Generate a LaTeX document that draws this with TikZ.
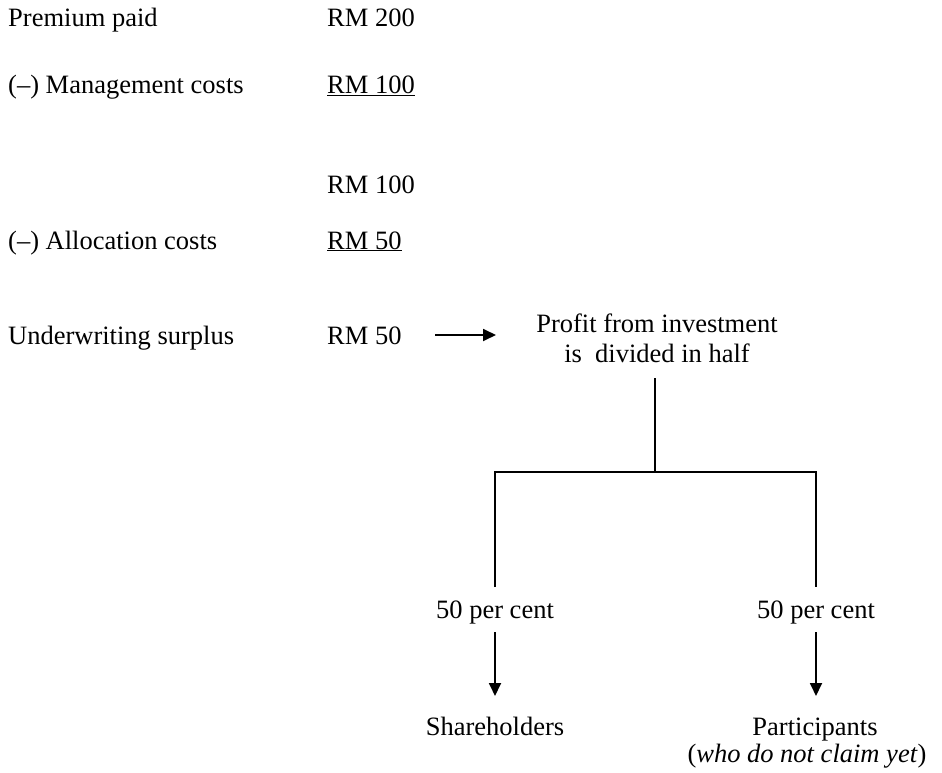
\documentclass[tikz,border=0pt]{standalone}
\usepackage{fontspec}
\setmainfont{Liberation Serif}
\usetikzlibrary{arrows.meta}
\tikzset{
  txt/.style={inner sep=0pt, font=\fontsize{26.5}{31}\selectfont},
  lw/.style={line width=1.8pt},
  arr/.style={lw, -{Triangle[length=13pt,width=12pt]}},
}
\begin{document}
\begin{tikzpicture}[x=1pt,y=-1pt]
\useasboundingbox (0,0) rectangle (942,773);
% left column
\node[txt, anchor=base west] (prem) at (8,27) {Premium paid};
\node[txt, anchor=base west] (v1) at (327,27) {RM 200};
\node[txt, anchor=base west] (mgmt) at (8,94) {(–) Management costs};
\node[txt, anchor=base west] (v2) at (327,94) {\underline{RM 100}};
\node[txt, anchor=base west] (v3) at (327,193) {RM 100};
\node[txt, anchor=base west] (alloc) at (8,249) {(–) Allocation costs};
\node[txt, anchor=base west] (v4) at (327,249) {\underline{RM 50}};
\node[txt, anchor=base west] (us) at (8,344) {Underwriting surplus};
\node[txt, anchor=base west] (v5) at (327,344) {RM 50};
% profit
\node[txt, anchor=base] (profit1) at (657,332) {Profit from investment};
\node[txt, anchor=base] (profit2) at (657,362) {is\ \ divided in half};
\coordinate (a1) at (435,335);
\coordinate (a2) at (496,335);
\draw[arr] (a1) -- (a2);
% tree
\coordinate (top) at (655,378);
\coordinate (j) at (655,472);
\coordinate (jl) at (495,472);
\coordinate (jr) at (816,472);
\coordinate (ll) at (495,587);
\coordinate (rl) at (816,587);
\draw[lw] (top) -- (j);
\draw[lw] (ll) -- (jl) -- (jr) -- (rl);
\node[txt, anchor=base] (pc1) at (495,618) {50 per cent};
\node[txt, anchor=base] (pc2) at (816,618) {50 per cent};
\coordinate (s1) at (495,632);
\coordinate (t1) at (495,696);
\coordinate (s2) at (816,632);
\coordinate (t2) at (816,696);
\draw[arr] (s1) -- (t1);
\draw[arr] (s2) -- (t2);
\node[txt, anchor=base] (sh) at (495,735) {Shareholders};
\node[txt, anchor=base] (pa) at (815,735) {Participants};
\node[txt, anchor=base] (who) at (807,762) {(\textit{who do not claim yet})};
\end{tikzpicture}
\end{document}
